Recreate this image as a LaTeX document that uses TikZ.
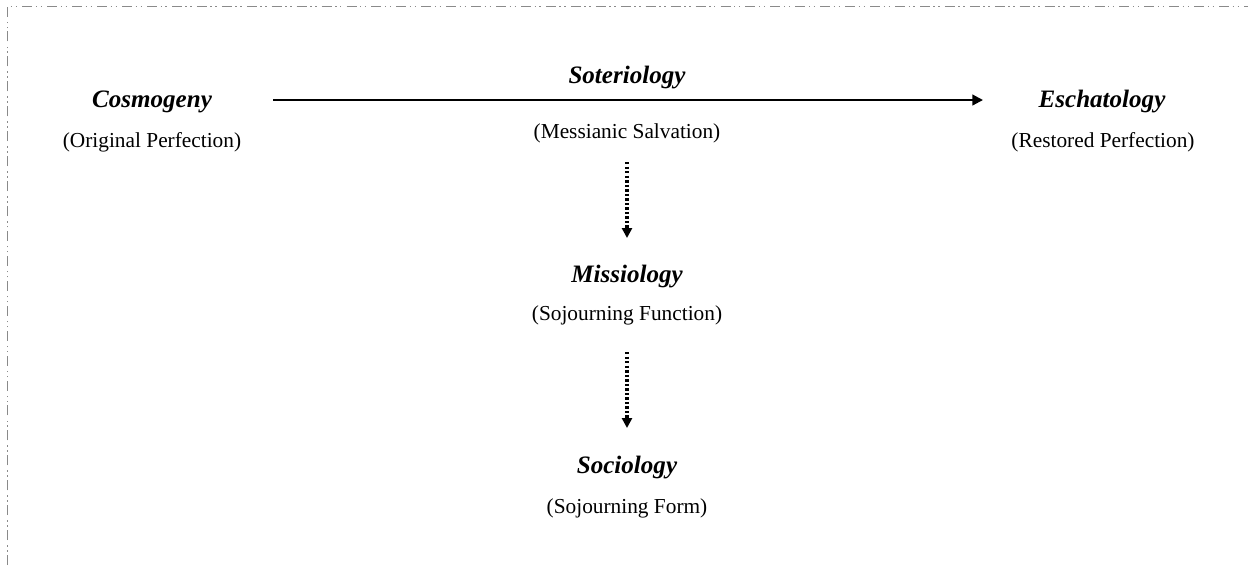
\documentclass[tikz,border=0pt]{standalone}
\usepackage{fontspec}
\setmainfont{Liberation Serif}
\usetikzlibrary{arrows.meta}
\definecolor{framegray}{HTML}{8A8A8A}
\tikzset{
  term/.style={anchor=base, inner sep=0pt, font=\fontsize{18.8}{21}\selectfont\bfseries\itshape},
  gloss/.style={anchor=base, inner sep=0pt, font=\fontsize{16}{18}\selectfont},
  flow/.style={line width=1.6pt, -{Triangle[length=8pt,width=8pt]}},
  leadsto/.style={line width=2.4pt, dash pattern=on 1.8pt off 1.6pt, -{Triangle[length=7.5pt,width=7.5pt]}},
  frame/.style={draw=framegray, line width=1.4pt,
    dash pattern=on 7.5pt off 2.6pt on 1.1pt off 2.6pt on 1.1pt off 3.8pt}
}
\begin{document}
\begin{tikzpicture}[x=0.75pt,y=-0.75pt]
  \useasboundingbox (0,0) rectangle (1248,569);
  % outer frame, running off the right and bottom edges
  \begin{scope}
    \clip (0,0) rectangle (1248,569);
    \draw[frame] (7.5,590) -- (7.5,6.5) -- (1270,6.5);
  \end{scope}

  % terms and their glosses
  \node[term]  (cos)  at (152,107) {Cosmogeny};
  \node[gloss] (cosg) at (152,147) {(Original Perfection)};
  \node[term]  (sot)  at (627,83)  {Soteriology};
  \node[gloss] (sotg) at (627,138) {(Messianic Salvation)};
  \node[term]  (esc)  at (1102,107) {Eschatology};
  \node[gloss] (escg) at (1103,147) {(Restored Perfection)};
  \node[term]  (mis)  at (627,282) {Missiology};
  \node[gloss] (misg) at (627,320) {(Sojourning Function)};
  \node[term]  (soc)  at (627,473) {Sociology};
  \node[gloss] (socg) at (627,513) {(Sojourning Form)};

  % connectors
  \coordinate (hA) at (273,100);
  \coordinate (hB) at (983,100);
  \draw[flow] (hA) -- (hB);
  \coordinate (d1a) at (627,162);
  \coordinate (d1b) at (627,238);
  \draw[leadsto] (d1a) -- (d1b);
  \coordinate (d2a) at (627,352);
  \coordinate (d2b) at (627,428);
  \draw[leadsto] (d2a) -- (d2b);
\end{tikzpicture}
\end{document}
